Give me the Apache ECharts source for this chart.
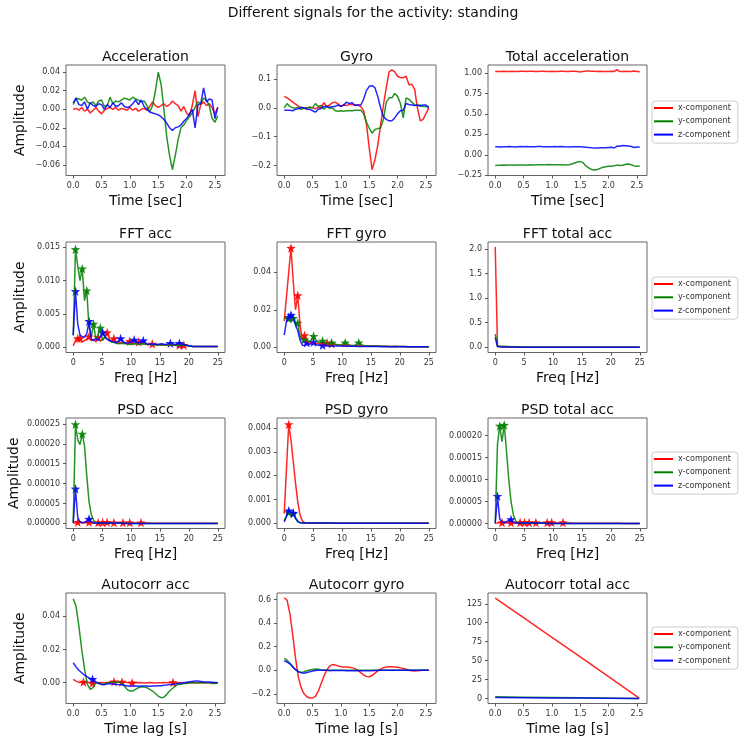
<!DOCTYPE html>
<html>
<head>
<meta charset="utf-8">
<script src="https://cdn.jsdelivr.net/npm/echarts@6/dist/echarts.min.js"></script>
<style>
html, body { margin: 0; padding: 0; background: #fff; }
#chartmain { width: 746px; height: 741px; }
</style>
</head>
<body>
<div id="chartmain"></div>
<script>
// ---- sample axes ----
var t = [
    0, 0.05, 0.1, 0.15, 0.2, 0.25, 0.3, 0.35, 0.4, 0.45, 0.5, 0.55, 0.6,
    0.65, 0.7, 0.75, 0.8, 0.85, 0.9, 0.95, 1.0, 1.05, 1.1, 1.15, 1.2, 1.25,
    1.3, 1.35, 1.4, 1.45, 1.5, 1.55, 1.6, 1.65, 1.7, 1.75, 1.8, 1.85, 1.9,
    1.95, 2.0, 2.05, 2.1, 2.15, 2.2, 2.25, 2.3, 2.35, 2.4, 2.45, 2.5, 2.55
];
var freq = [
    0, 0.39, 0.78, 1.17, 1.56, 1.95, 2.34, 2.73, 3.13, 3.52, 3.91,
    4.3, 4.69, 5.08, 5.47, 5.86, 6.25, 6.64, 7.03, 7.42, 7.81, 8.2,
    8.98, 9.77, 10.55, 11.33, 12.11, 12.89, 13.67, 14.45, 15.23, 16.02, 16.8,
    17.58, 18.36, 19.14, 19.92, 20.7, 21.48, 22.27, 23.05, 23.83, 24.61, 25.0
];
var lagTotal = [0, 0.5, 1.0, 1.5, 2.0, 2.54];

// ---- time signals ----
var accX = [
    0.000, 0.001, -0.001, 0.002, -0.002, 0.000, -0.004, -0.001, 0.002, -0.002, -0.005, -0.001, 0.001,
    0.002, 0.000, 0.002, -0.001, 0.001, 0.000, -0.001, 0.002, -0.001, 0.001, -0.002, 0.000, 0.001,
    -0.001, 0.003, 0.008, 0.004, 0.002, 0.004, 0.006, 0.003, 0.005, 0.009, 0.006, 0.004, -0.002,
    0.003, -0.004, -0.007, 0.004, 0.020, -0.008, 0.005, 0.008, 0.004, 0.006, 0.002, -0.005, 0.002
];
var accY = [
    0.005, 0.012, 0.011, 0.010, 0.013, 0.008, 0.006, 0.008, 0.004, 0.009, 0.010, 0.003, 0.004,
    0.013, 0.006, 0.009, 0.008, 0.010, 0.012, 0.011, 0.010, 0.013, 0.011, 0.010, 0.008, 0.009,
    0.004, -0.003, 0.004, 0.020, 0.040, 0.027, 0.000, -0.030, -0.050, -0.065, -0.050, -0.033, -0.020,
    -0.017, -0.012, -0.008, -0.004, 0.002, 0.008, 0.006, 0.012, 0.010, 0.004, -0.010, -0.014, -0.007
];
var accZ = [
    0.007, 0.012, 0.005, 0.004, 0.008, 0.000, 0.007, 0.004, 0.003, 0.006, 0.005, 0.000, 0.005,
    0.002, 0.007, 0.003, 0.004, 0.007, 0.003, 0.002, 0.003, 0.006, 0.010, 0.005, 0.010, 0.003,
    0.000, -0.003, -0.004, -0.005, -0.006, -0.008, -0.011, -0.015, -0.020, -0.023, -0.020, -0.019, -0.017,
    -0.013, -0.010, -0.005, 0.000, -0.020, 0.005, 0.006, 0.023, 0.008, 0.011, 0.010, -0.010, 0.002
];
var gyroX = [
    0.040, 0.035, 0.028, 0.020, 0.013, 0.006, 0.000, -0.002, 0.000, 0.002, 0.000, -0.003, 0.002,
    0.002, 0.018, 0.005, 0.010, 0.018, 0.020, 0.014, 0.005, 0.010, 0.008, 0.012, 0.012, 0.010,
    0.010, 0.005, -0.010, -0.055, -0.140, -0.215, -0.180, -0.130, -0.060, 0.010, 0.070, 0.125, 0.132,
    0.125, 0.110, 0.105, 0.105, 0.110, 0.080, 0.082, 0.065, 0.000, -0.045, -0.040, -0.020, 0.000
];
var gyroY = [
    0.000, 0.015, 0.005, 0.000, 0.000, 0.002, -0.005, 0.000, 0.000, 0.002, 0.000, 0.015, 0.005,
    0.008, -0.005, 0.005, -0.002, 0.000, -0.010, -0.012, -0.010, -0.012, -0.010, -0.010, -0.010, -0.008,
    -0.008, -0.008, -0.020, -0.050, -0.070, -0.088, -0.075, -0.072, -0.070, -0.040, 0.020, 0.035, 0.035,
    0.050, 0.040, 0.015, -0.035, 0.035, 0.030, 0.020, 0.010, 0.008, 0.010, 0.005, 0.005, 0.005
];
var gyroZ = [
    -0.008, -0.008, -0.008, -0.010, -0.005, -0.003, 0.002, 0.000, -0.005, -0.005, -0.010, -0.015, -0.005,
    -0.002, 0.005, 0.005, 0.002, 0.005, 0.005, 0.010, 0.005, 0.010, 0.020, 0.015, 0.018, 0.008,
    0.010, 0.010, 0.030, 0.060, 0.075, 0.077, 0.070, 0.040, 0.000, -0.030, -0.040, -0.045, -0.045,
    -0.035, -0.020, -0.010, -0.008, 0.015, 0.012, 0.010, 0.008, 0.010, 0.005, 0.010, 0.010, 0.000
];
var totX = [
    1.018, 1.020, 1.019, 1.021, 1.018, 1.020, 1.021, 1.019, 1.020, 1.022, 1.021, 1.020, 1.021,
    1.022, 1.020, 1.019, 1.021, 1.022, 1.020, 1.020, 1.021, 1.018, 1.020, 1.022, 1.021, 1.019,
    1.020, 1.021, 1.022, 1.020, 1.012, 1.020, 1.024, 1.024, 1.022, 1.023, 1.020, 1.021, 1.020,
    1.018, 1.020, 1.022, 1.019, 1.040, 1.018, 1.020, 1.022, 1.020, 1.018, 1.024, 1.020, 1.016
];
var totY = [
    -0.130, -0.128, -0.127, -0.125, -0.127, -0.125, -0.124, -0.126, -0.123, -0.125, -0.124, -0.126, -0.122,
    -0.124, -0.123, -0.121, -0.122, -0.120, -0.121, -0.119, -0.120, -0.121, -0.120, -0.122, -0.121, -0.123,
    -0.120, -0.112, -0.100, -0.088, -0.082, -0.095, -0.135, -0.160, -0.178, -0.185, -0.178, -0.165, -0.152,
    -0.145, -0.140, -0.138, -0.134, -0.125, -0.130, -0.127, -0.115, -0.112, -0.120, -0.135, -0.140, -0.135
];
var totZ = [
    0.098, 0.100, 0.097, 0.100, 0.099, 0.101, 0.100, 0.097, 0.100, 0.101, 0.100, 0.102, 0.100,
    0.098, 0.100, 0.101, 0.102, 0.100, 0.100, 0.098, 0.100, 0.102, 0.100, 0.101, 0.100, 0.098,
    0.097, 0.100, 0.100, 0.098, 0.100, 0.097, 0.094, 0.090, 0.087, 0.085, 0.085, 0.086, 0.087,
    0.088, 0.090, 0.092, 0.084, 0.108, 0.105, 0.115, 0.112, 0.108, 0.102, 0.090, 0.095, 0.097
];

// ---- FFT ----
var fftAccX = [
    0.0002, 0.0010, 0.0013, 0.0013, 0.0008, 0.0010, 0.0012, 0.0016, 0.0010, 0.0012, 0.0008,
    0.0015, 0.0009, 0.0012, 0.0014, 0.0022, 0.0012, 0.0009, 0.0013, 0.0008, 0.0006, 0.0007,
    0.0006, 0.0009, 0.0005, 0.0008, 0.0005, 0.0004, 0.0005, 0.0004, 0.0003, 0.0004, 0.0003,
    0.0003, 0.0003, 0.0003, 0.0002, 0.0001, 0.0001, 0.0001, 0.0001, 0.0001, 0.0001, 0.0001
];
var fftAccY = [
    0.0018, 0.0147, 0.0122, 0.0100, 0.0118, 0.0070, 0.0085, 0.0030, 0.0016, 0.0035, 0.0012,
    0.0018, 0.0029, 0.0010, 0.0016, 0.0012, 0.0010, 0.0008, 0.0007, 0.0006, 0.0005, 0.0006,
    0.0005, 0.0004, 0.0005, 0.0004, 0.0005, 0.0004, 0.0004, 0.0003, 0.0004, 0.0003, 0.0004,
    0.0003, 0.0003, 0.0003, 0.0002, 0.0001, 0.0001, 0.0001, 0.0001, 0.0001, 0.0001, 0.0001
];
var fftAccZ = [
    0.0018, 0.0084, 0.0035, 0.0018, 0.0016, 0.0015, 0.0020, 0.0039, 0.0012, 0.0010, 0.0013,
    0.0010, 0.0015, 0.0022, 0.0016, 0.0012, 0.0010, 0.0009, 0.0008, 0.0007, 0.0009, 0.0013,
    0.0006, 0.0007, 0.0011, 0.0006, 0.0010, 0.0004, 0.0005, 0.0004, 0.0005, 0.0004, 0.0006,
    0.0004, 0.0006, 0.0004, 0.0002, 0.0001, 0.0001, 0.0001, 0.0001, 0.0001, 0.0001, 0.0001
];
var fftGyroX = [
    0.0140, 0.0270, 0.0400, 0.0528, 0.0350, 0.0200, 0.0276, 0.0120, 0.0040, 0.0064, 0.0030,
    0.0025, 0.0020, 0.0025, 0.0020, 0.0022, 0.0018, 0.0020, 0.0018, 0.0024, 0.0018, 0.0020,
    0.0014, 0.0012, 0.0011, 0.0010, 0.0009, 0.0008, 0.0008, 0.0007, 0.0006, 0.0007, 0.0006,
    0.0006, 0.0005, 0.0006, 0.0005, 0.0005, 0.0004, 0.0004, 0.0004, 0.0004, 0.0004, 0.0004
];
var fftGyroY = [
    0.0150, 0.0160, 0.0153, 0.0140, 0.0155, 0.0120, 0.0130, 0.0060, 0.0040, 0.0042, 0.0040,
    0.0030, 0.0040, 0.0060, 0.0040, 0.0030, 0.0025, 0.0035, 0.0025, 0.0020, 0.0018, 0.0025,
    0.0015, 0.0012, 0.0025, 0.0012, 0.0010, 0.0025, 0.0010, 0.0008, 0.0008, 0.0007, 0.0006,
    0.0006, 0.0005, 0.0005, 0.0005, 0.0005, 0.0004, 0.0004, 0.0004, 0.0004, 0.0004, 0.0004
];
var fftGyroZ = [
    0.0065, 0.0140, 0.0160, 0.0172, 0.0160, 0.0120, 0.0090, 0.0040, 0.0012, 0.0010, 0.0025,
    0.0015, 0.0020, 0.0028, 0.0015, 0.0012, 0.0010, 0.0012, 0.0010, 0.0008, 0.0008, 0.0008,
    0.0007, 0.0007, 0.0006, 0.0006, 0.0006, 0.0005, 0.0005, 0.0005, 0.0005, 0.0005, 0.0004,
    0.0004, 0.0004, 0.0004, 0.0004, 0.0004, 0.0004, 0.0004, 0.0004, 0.0004, 0.0004, 0.0004
];
var fftTotX = [
    2.040, 0.020, 0.012, 0.009, 0.008, 0.007, 0.006, 0.006, 0.005, 0.005, 0.005,
    0.005, 0.004, 0.004, 0.004, 0.004, 0.004, 0.004, 0.004, 0.004, 0.004, 0.004,
    0.003, 0.003, 0.003, 0.003, 0.003, 0.003, 0.003, 0.003, 0.003, 0.003, 0.003,
    0.003, 0.003, 0.003, 0.003, 0.003, 0.003, 0.003, 0.003, 0.003, 0.003, 0.003
];
var fftTotY = [
    0.270, 0.030, 0.025, 0.022, 0.020, 0.018, 0.016, 0.014, 0.012, 0.010, 0.008,
    0.007, 0.006, 0.005, 0.005, 0.005, 0.004, 0.004, 0.004, 0.004, 0.004, 0.004,
    0.003, 0.003, 0.003, 0.003, 0.003, 0.003, 0.003, 0.003, 0.003, 0.003, 0.003,
    0.003, 0.003, 0.003, 0.003, 0.003, 0.003, 0.003, 0.003, 0.003, 0.003, 0.003
];
var fftTotZ = [
    0.200, 0.015, 0.010, 0.008, 0.007, 0.006, 0.006, 0.005, 0.005, 0.005, 0.004,
    0.004, 0.004, 0.004, 0.004, 0.004, 0.004, 0.004, 0.004, 0.004, 0.004, 0.004,
    0.003, 0.003, 0.003, 0.003, 0.003, 0.003, 0.003, 0.003, 0.003, 0.003, 0.003,
    0.003, 0.003, 0.003, 0.003, 0.003, 0.003, 0.003, 0.003, 0.003, 0.003, 0.003
];

// ---- PSD ----
var psdAccX = [
    2e-7, 1e-6, 3e-6, 2e-6, 1e-6, 1e-6, 2e-6, 3e-6, 1e-6, 1e-6, 1e-6,
    2e-6, 1e-6, 2e-6, 1e-6, 3e-6, 1e-6, 1e-6, 2e-6, 1e-6, 1e-6, 1e-6,
    1e-6, 2e-6, 1e-6, 1e-6, 1e-6, 1e-6, 5e-7, 5e-7, 5e-7, 5e-7, 5e-7,
    5e-7, 5e-7, 3e-7, 3e-7, 2e-7, 2e-7, 1e-7, 1e-7, 1e-7, 1e-7, 1e-7
];
var psdAccY = [
    3e-6, 2.49e-4, 2.10e-4, 1.98e-4, 2.25e-4, 1.95e-4, 1.20e-4, 5.5e-5, 2.2e-5, 8e-6, 2e-6,
    1e-6, 1e-6, 1e-6, 1e-6, 1e-6, 1e-6, 1e-6, 1e-6, 1e-6, 1e-6, 1e-6,
    0, 0, 0, 0, 0, 0, 0, 0, 0, 0, 0,
    0, 0, 0, 0, 0, 0, 0, 0, 0, 0, 0
];
var psdAccZ = [
    1e-6, 8.7e-5, 1.5e-5, 3e-6, 2e-6, 3e-6, 6e-6, 1.1e-5, 4e-6, 1e-6, 1e-6,
    1e-6, 1e-6, 1e-6, 1e-6, 1e-6, 1e-6, 1e-6, 1e-6, 1e-6, 1e-6, 1e-6,
    0, 0, 0, 0, 0, 0, 0, 0, 0, 0, 0,
    0, 0, 0, 0, 0, 0, 0, 0, 0, 0, 0
];
var psdGyroX = [
    4e-4, 2.3e-3, 4.16e-3, 3.5e-3, 2.6e-3, 1.7e-3, 9e-4, 3.5e-4, 1e-4, 3e-5, 1.5e-5,
    1e-5, 1e-5, 1e-5, 1e-5, 1e-5, 1e-5, 1e-5, 1e-5, 1e-5, 1e-5, 1e-5,
    5e-6, 5e-6, 5e-6, 5e-6, 5e-6, 5e-6, 5e-6, 5e-6, 5e-6, 5e-6, 5e-6,
    5e-6, 5e-6, 5e-6, 5e-6, 5e-6, 5e-6, 5e-6, 5e-6, 5e-6, 5e-6, 5e-6
];
var psdGyroY = [
    1e-4, 3e-4, 4.6e-4, 4e-4, 4e-4, 2.5e-4, 1e-4, 3e-5, 1e-5, 1e-5, 1e-5,
    1e-5, 1e-5, 1e-5, 1e-5, 1e-5, 1e-5, 1e-5, 1e-5, 1e-5, 1e-5, 1e-5,
    5e-6, 5e-6, 5e-6, 5e-6, 5e-6, 5e-6, 5e-6, 5e-6, 5e-6, 5e-6, 5e-6,
    5e-6, 5e-6, 5e-6, 5e-6, 5e-6, 5e-6, 5e-6, 5e-6, 5e-6, 5e-6, 5e-6
];
var psdGyroZ = [
    5e-5, 3e-4, 5.3e-4, 4.5e-4, 4.3e-4, 2e-4, 6e-5, 2e-5, 1e-5, 1e-5, 1e-5,
    1e-5, 1e-5, 1e-5, 1e-5, 1e-5, 1e-5, 1e-5, 1e-5, 1e-5, 1e-5, 1e-5,
    5e-6, 5e-6, 5e-6, 5e-6, 5e-6, 5e-6, 5e-6, 5e-6, 5e-6, 5e-6, 5e-6,
    5e-6, 5e-6, 5e-6, 5e-6, 5e-6, 5e-6, 5e-6, 5e-6, 5e-6, 5e-6, 5e-6
];
var psdTotX = [
    2e-7, 1e-6, 2e-6, 2e-6, 1e-6, 1e-6, 2e-6, 2e-6, 1e-6, 1e-6, 1e-6,
    2e-6, 1e-6, 2e-6, 1e-6, 2e-6, 1e-6, 1e-6, 2e-6, 1e-6, 1e-6, 1e-6,
    2e-6, 2e-6, 1e-6, 1e-6, 1e-6, 1e-6, 5e-7, 5e-7, 5e-7, 5e-7, 5e-7,
    5e-7, 5e-7, 3e-7, 3e-7, 2e-7, 2e-7, 1e-7, 1e-7, 1e-7, 1e-7, 1e-7
];
var psdTotY = [
    2e-6, 1.8e-4, 2.22e-4, 1.86e-4, 2.24e-4, 1.65e-4, 1.0e-4, 5e-5, 2e-5, 6e-6, 1e-6,
    1e-6, 1e-6, 1e-6, 1e-6, 1e-6, 1e-6, 1e-6, 1e-6, 1e-6, 1e-6, 1e-6,
    0, 0, 0, 0, 0, 0, 0, 0, 0, 0, 0,
    0, 0, 0, 0, 0, 0, 0, 0, 0, 0, 0
];
var psdTotZ = [
    0, 6.2e-5, 1e-5, 3e-6, 2e-6, 4e-6, 7e-6, 9e-6, 3e-6, 1e-6, 1e-6,
    1e-6, 1e-6, 1e-6, 1e-6, 1e-6, 1e-6, 1e-6, 1e-6, 1e-6, 1e-6, 1e-6,
    0, 0, 0, 0, 0, 0, 0, 0, 0, 0, 0,
    0, 0, 0, 0, 0, 0, 0, 0, 0, 0, 0
];

// ---- autocorrelation ----
var acAccX = [
    0.0020, 0.0010, 0.0002, 0.0003, 0.0005, 0.0002, 0.0000, -0.0002, 0.0000, 0.0000, 0.0002, 0.0000, 0.0002,
    0.0004, 0.0006, 0.0004, 0.0004, 0.0005, 0.0003, 0.0001, -0.0001, 0.0000, 0.0000, 0.0001, 0.0000, -0.0001,
    0.0000, 0.0001, 0.0000, -0.0001, 0.0000, 0.0000, 0.0001, 0.0000, 0.0001, 0.0002, 0.0001, 0.0000, 0.0000,
    -0.0001, 0.0000, 0.0000, 0.0001, 0.0000, 0.0000, 0.0001, 0.0000, 0.0000, 0.0000, 0.0000, 0.0000, 0.0000
];
var acAccY = [
    0.0505, 0.0460, 0.0340, 0.0200, 0.0080, -0.0010, -0.0040, -0.0030, 0.0000, 0.0000, -0.0010, -0.0010, 0.0000,
    0.0000, 0.0005, 0.0000, 0.0005, 0.0000, -0.0020, -0.0040, -0.0050, -0.0050, -0.0040, -0.0030, -0.0025, -0.0025,
    -0.0030, -0.0040, -0.0050, -0.0065, -0.0080, -0.0090, -0.0088, -0.0070, -0.0050, -0.0035, -0.0020, -0.0010, -0.0010,
    -0.0005, -0.0005, 0.0000, 0.0000, 0.0000, 0.0000, 0.0000, 0.0000, 0.0000, 0.0000, -0.0005, -0.0005, 0.0000
];
var acAccZ = [
    0.0120, 0.0095, 0.0075, 0.0060, 0.0045, 0.0035, 0.0025, 0.0020, 0.0005, -0.0005, -0.0010, -0.0010, -0.0008,
    -0.0005, -0.0008, -0.0010, -0.0010, -0.0012, -0.0015, -0.0020, -0.0020, -0.0019, -0.0020, -0.0021, -0.0020, -0.0019,
    -0.0020, -0.0021, -0.0020, -0.0019, -0.0018, -0.0018, -0.0015, -0.0013, -0.0010, -0.0010, -0.0008, -0.0005, -0.0003,
    0.0000, 0.0003, 0.0006, 0.0008, 0.0010, 0.0010, 0.0008, 0.0006, 0.0005, 0.0004, 0.0003, 0.0002, 0.0000
];
var acGyroX = [
    0.615, 0.595, 0.480, 0.300, 0.100, -0.060, -0.150, -0.200, -0.225, -0.235, -0.235, -0.222, -0.180,
    -0.115, -0.050, 0.000, 0.035, 0.048, 0.045, 0.037, 0.030, 0.028, 0.028, 0.026, 0.020, 0.012,
    0.000, -0.020, -0.040, -0.052, -0.055, -0.045, -0.025, -0.005, 0.010, 0.022, 0.028, 0.030, 0.030,
    0.028, 0.025, 0.020, 0.015, 0.008, 0.000, -0.005, -0.006, -0.005, -0.002, 0.000, 0.000, 0.000
];
var acGyroY = [
    0.100, 0.085, 0.060, 0.030, 0.005, -0.012, -0.018, -0.012, -0.005, 0.002, 0.007, 0.010, 0.008,
    0.003, 0.000, 0.000, -0.002, 0.000, 0.001, 0.000, -0.001, 0.000, 0.001, 0.000, 0.000, 0.001,
    0.000, -0.001, 0.000, 0.000, 0.000, 0.001, 0.000, 0.000, 0.000, 0.001, 0.000, 0.000, 0.000,
    0.000, 0.000, 0.001, 0.000, 0.000, 0.000, 0.000, 0.000, 0.000, 0.000, 0.000, 0.000, 0.000
];
var acGyroZ = [
    0.080, 0.070, 0.055, 0.030, 0.005, -0.012, -0.022, -0.025, -0.020, -0.013, -0.007, -0.003, 0.000,
    0.000, 0.000, -0.001, -0.002, -0.002, -0.003, -0.003, -0.003, -0.003, -0.004, -0.004, -0.004, -0.004,
    -0.004, -0.005, -0.005, -0.005, -0.005, -0.004, -0.003, -0.002, -0.001, 0.000, 0.000, 0.000, 0.000,
    0.000, 0.000, 0.000, 0.000, 0.000, 0.000, 0.000, 0.000, 0.000, 0.000, 0.000, 0.000, 0.000
];
var acTotX = [132.5, 106.6, 80.7, 54.9, 29.0, 0.5];
var acTotY = [2.2, 1.77, 1.34, 0.91, 0.48, 0.02];
var acTotZ = [1.28, 1.03, 0.78, 0.53, 0.28, 0.01];

// ---- detected peaks (stars) ----
var fftAccXPeaks = [[0.78, 0.0013], [1.17, 0.0013], [2.73, 0.0016], [4.3, 0.0015], [5.86, 0.0022], [7.03, 0.0013], [9.77, 0.0009], [11.33, 0.0008], [13.67, 0.0005], [18.36, 0.0003], [19.14, 0.0003]];
var fftAccYPeaks = [[0.39, 0.0147], [1.56, 0.0118], [2.34, 0.0085], [3.52, 0.0035], [4.69, 0.0029]];
var fftAccZPeaks = [[0.39, 0.0084], [2.73, 0.0039], [5.08, 0.0022], [8.2, 0.0013], [10.55, 0.0011], [12.11, 0.0010], [16.8, 0.0006], [18.36, 0.0006]];
var fftGyroXPeaks = [[1.17, 0.0528], [2.34, 0.0276], [3.52, 0.0064], [7.42, 0.0024], [8.2, 0.0020]];
var fftGyroYPeaks = [[0.78, 0.0153], [1.56, 0.0155], [2.34, 0.0130], [3.52, 0.0042], [5.08, 0.0060], [6.64, 0.0035], [8.2, 0.0025], [10.55, 0.0025], [12.89, 0.0025]];
var fftGyroZPeaks = [[0.78, 0.0160], [1.17, 0.0172], [3.91, 0.0025], [5.08, 0.0028], [6.64, 0.0012]];
var psdAccXPeaks = [[0.78, 3e-6], [2.73, 3e-6], [4.3, 2e-6], [5.08, 2e-6], [5.86, 3e-6], [7.03, 2e-6], [8.59, 2e-6], [9.77, 2e-6], [11.72, 2e-6]];
var psdAccYPeaks = [[0.39, 2.49e-4], [1.56, 2.25e-4]];
var psdAccZPeaks = [[0.39, 8.7e-5], [2.73, 1.1e-5]];
var psdGyroXPeaks = [[0.78, 4.16e-3]];
var psdGyroYPeaks = [[0.78, 4.6e-4], [1.56, 4.0e-4]];
var psdGyroZPeaks = [[0.78, 5.3e-4], [1.56, 4.3e-4]];
var psdTotXPeaks = [[1.17, 2e-6], [2.73, 2e-6], [4.3, 2e-6], [5.08, 2e-6], [5.86, 2e-6], [7.03, 2e-6], [8.98, 2e-6], [9.77, 2e-6], [11.72, 2e-6]];
var psdTotYPeaks = [[0.78, 2.22e-4], [1.56, 2.24e-4]];
var psdTotZPeaks = [[0.39, 6.2e-5], [2.73, 9e-6]];
var acAccXPeaks = [[0.18, 0.0005], [0.34, -0.0001], [0.72, 0.0006], [0.86, 0.0005], [1.04, 0.0], [1.76, 0.0002]];
var acAccZPeaks = [[0.34, 0.0021]];

// ---- tick labels ----
var timeTicks = [0, 0.5, 1.0, 1.5, 2.0, 2.5];
var freqTicks = [0, 5, 10, 15, 20, 25];
var accTicks = [-0.06, -0.04, -0.02, 0, 0.02, 0.04];
var gyroTicks = [-0.2, -0.1, 0, 0.1];
var totTicks = [-0.25, 0, 0.25, 0.5, 0.75, 1.0];
var fftAccTicks = [0, 0.005, 0.010, 0.015];
var fftGyroTicks = [0, 0.02, 0.04];
var fftTotTicks = [0, 0.5, 1.0, 1.5, 2.0];
var psdAccTicks = [0, 0.00005, 0.00010, 0.00015, 0.00020, 0.00025];
var psdGyroTicks = [0, 0.001, 0.002, 0.003, 0.004];
var psdTotTicks = [0, 0.00005, 0.00010, 0.00015, 0.00020];
var acAccTicks = [0, 0.02, 0.04];
var acGyroTicks = [-0.2, 0, 0.2, 0.4, 0.6];
var acTotTicks = [0, 25, 50, 75, 100, 125];

var componentNames = ['x-component', 'y-component', 'z-component'];

(function() {

var colors = ['#ff0000', '#008000', '#0000ff'];
var font = 'DejaVu Sans';
var star = 'path://M0,-10L2.35,-3.24L9.51,-3.09L3.8,1.24L5.88,8.09L0,4L-5.88,8.09L-3.8,1.24L-9.51,-3.09L-2.35,-3.24Z';
var colLeft = [66, 277, 488];
var rowTop = [65, 242, 418, 593];
var plotW = 159, plotH = 110.5;
var ampGap = [39, 39, 45, 39];

var panels = [
    {title: 'Acceleration', x: t, ys: [accX, accY, accZ], xr: [-0.1275, 2.6775], xt: timeTicks, xd: 1,
     yr: [-0.0715, 0.0478], yt: accTicks, yd: 2, xname: 'Time [sec]'},
    {title: 'Gyro', x: t, ys: [gyroX, gyroY, gyroZ], xr: [-0.1275, 2.6775], xt: timeTicks, xd: 1,
     yr: [-0.235, 0.149], yt: gyroTicks, yd: 1, xname: 'Time [sec]'},
    {title: 'Total acceleration', x: t, ys: [totX, totY, totZ], xr: [-0.1275, 2.6775], xt: timeTicks, xd: 1,
     yr: [-0.252, 1.098], yt: totTicks, yd: 2, xname: 'Time [sec]'},
    {title: 'FFT acc', x: freq, ys: [fftAccX, fftAccY, fftAccZ], peaks: [fftAccXPeaks, fftAccYPeaks, fftAccZPeaks],
     xr: [-1.25, 26.25], xt: freqTicks, xd: 0, yr: [-0.0008, 0.0158], yt: fftAccTicks, yd: 3, xname: 'Freq [Hz]'},
    {title: 'FFT gyro', x: freq, ys: [fftGyroX, fftGyroY, fftGyroZ], peaks: [fftGyroXPeaks, fftGyroYPeaks, fftGyroZPeaks],
     xr: [-1.25, 26.25], xt: freqTicks, xd: 0, yr: [-0.0027, 0.0560], yt: fftGyroTicks, yd: 2, xname: 'Freq [Hz]'},
    {title: 'FFT total acc', x: freq, ys: [fftTotX, fftTotY, fftTotZ],
     xr: [-1.25, 26.25], xt: freqTicks, xd: 0, yr: [-0.105, 2.14], yt: fftTotTicks, yd: 1, xname: 'Freq [Hz]'},
    {title: 'PSD acc', x: freq, ys: [psdAccX, psdAccY, psdAccZ], peaks: [psdAccXPeaks, psdAccYPeaks, psdAccZPeaks],
     xr: [-1.25, 26.25], xt: freqTicks, xd: 0, yr: [-0.0000128, 0.000265], yt: psdAccTicks, yd: 5, xname: 'Freq [Hz]'},
    {title: 'PSD gyro', x: freq, ys: [psdGyroX, psdGyroY, psdGyroZ], peaks: [psdGyroXPeaks, psdGyroYPeaks, psdGyroZPeaks],
     xr: [-1.25, 26.25], xt: freqTicks, xd: 0, yr: [-0.00022, 0.00443], yt: psdGyroTicks, yd: 3, xname: 'Freq [Hz]'},
    {title: 'PSD total acc', x: freq, ys: [psdTotX, psdTotY, psdTotZ], peaks: [psdTotXPeaks, psdTotYPeaks, psdTotZPeaks],
     xr: [-1.25, 26.25], xt: freqTicks, xd: 0, yr: [-0.0000115, 0.000240], yt: psdTotTicks, yd: 5, xname: 'Freq [Hz]'},
    {title: 'Autocorr acc', x: t, ys: [acAccX, acAccY, acAccZ], peaks: [acAccXPeaks, null, acAccZPeaks],
     xr: [-0.1275, 2.6775], xt: timeTicks, xd: 1, yr: [-0.0125, 0.0540], yt: acAccTicks, yd: 2, xname: 'Time lag [s]'},
    {title: 'Autocorr gyro', x: t, ys: [acGyroX, acGyroY, acGyroZ],
     xr: [-0.1275, 2.6775], xt: timeTicks, xd: 1, yr: [-0.282, 0.655], yt: acGyroTicks, yd: 1, xname: 'Time lag [s]'},
    {title: 'Autocorr total acc', x: lagTotal, ys: [acTotX, acTotY, acTotZ],
     xr: [-0.1275, 2.6775], xt: timeTicks, xd: 1, yr: [-6.6, 139.2], yt: acTotTicks, yd: 0, xname: 'Time lag [s]'}
];

function zip(xs, ys) {
    return xs.map(function(x, i) { return [x, ys[i]]; });
}
function fmt(d) {
    return function(v) {
        var s = Math.abs(v).toFixed(d);
        if (v < 0 && Number(s) !== 0) s = '\u2212' + s;
        return s;
    };
}

var option = {
    animation: false,
    backgroundColor: '#fff',
    title: [{
        text: 'Different signals for the activity: standing',
        left: 373, top: 6, textAlign: 'center', padding: 0,
        textStyle: {fontFamily: font, fontSize: 14, fontWeight: 'normal', color: '#111'}
    }],
    grid: [], xAxis: [], yAxis: [], series: [], legend: []
};

panels.forEach(function(p, i) {
    var row = Math.floor(i / 3), col = i % 3;
    option.grid.push({
        left: colLeft[col], top: rowTop[row], width: plotW, height: plotH,
        show: true, borderColor: '#666', borderWidth: 1, backgroundColor: 'transparent',
        outerBoundsMode: 'none'
    });
    option.title.push({
        text: p.title, left: colLeft[col] + plotW / 2, top: rowTop[row] - 15,
        textAlign: 'center', padding: 0,
        textStyle: {fontFamily: font, fontSize: 14, fontWeight: 'normal', color: '#111'}
    });
    option.xAxis.push({
        type: 'value', gridIndex: i, min: p.xr[0], max: p.xr[1],
        name: p.xname, nameLocation: 'middle', nameGap: 19,
        nameTextStyle: {fontFamily: font, fontSize: 14, color: '#111'},
        axisLine: {show: false, onZero: false},
        axisTick: {show: true, length: 3, lineStyle: {color: '#555'}, customValues: p.xt},
        axisLabel: {customValues: p.xt, formatter: fmt(p.xd), margin: 6,
                    fontFamily: font, fontSize: 8, color: '#333'},
        splitLine: {show: false}
    });
    option.yAxis.push({
        type: 'value', gridIndex: i, min: p.yr[0], max: p.yr[1],
        name: col === 0 ? 'Amplitude' : '', nameLocation: 'middle', nameGap: ampGap[row],
        nameTextStyle: {fontFamily: font, fontSize: 14, color: '#111'},
        axisLine: {show: false, onZero: false},
        axisTick: {show: true, length: 3, lineStyle: {color: '#555'}, customValues: p.yt},
        axisLabel: {customValues: p.yt, formatter: fmt(p.yd), margin: 6,
                    fontFamily: font, fontSize: 8, color: '#333'},
        splitLine: {show: false}
    });
    for (var k = 0; k < 3; k++) {
        option.series.push({
            type: 'line', name: componentNames[k], xAxisIndex: i, yAxisIndex: i,
            data: zip(p.x, p.ys[k]), showSymbol: false, silent: true,
            lineStyle: {color: colors[k], width: 1.5, opacity: 0.85},
            itemStyle: {color: colors[k]}
        });
        if (p.peaks && p.peaks[k]) {
            option.series.push({
                type: 'scatter', name: componentNames[k], xAxisIndex: i, yAxisIndex: i,
                data: p.peaks[k], symbol: star, symbolSize: 9.5, silent: true,
                itemStyle: {color: colors[k], opacity: 0.9}
            });
        }
    }
});

var legendTop = [101, 277, 452, 627];
legendTop.forEach(function(top) {
    option.legend.push({
        data: componentNames, orient: 'vertical', left: 652, top: top,
        padding: [2, 7, 3.5, 2], itemWidth: 19, itemHeight: 2, itemGap: 3.3,
        icon: 'rect', selectedMode: false,
        borderColor: '#ccc', borderWidth: 1, borderRadius: 3, backgroundColor: '#fff',
        textStyle: {fontFamily: font, fontSize: 8, color: '#333', lineHeight: 10}
    });
});

var myChart = echarts.init(document.getElementById('chartmain'));
myChart.setOption(option);

})();
</script>
</body>
</html>
